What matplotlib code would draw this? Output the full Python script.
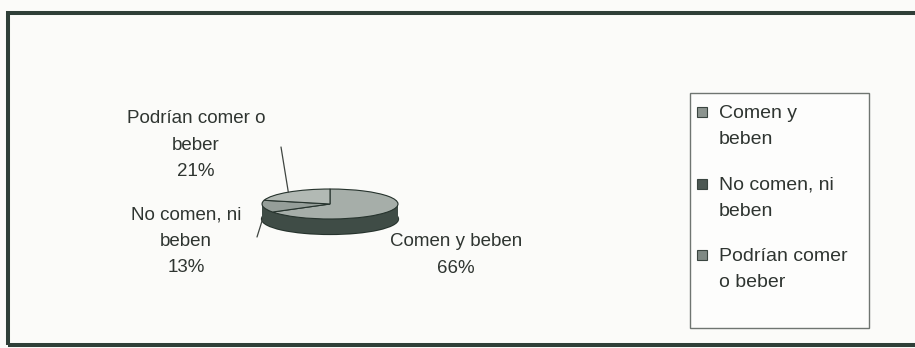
import numpy as np
import matplotlib
matplotlib.use('Agg')
import matplotlib.pyplot as plt
from matplotlib.patches import Rectangle

# data
categories = ['Comen y beben', 'No comen, ni beben', 'Podrían comer o beber']
shares = [66, 13, 21]
pie_labels = ['Comen y beben\n66%', 'No comen, ni\nbeben\n13%', 'Podrían comer o\nbeber\n21%']
legend_labels = ['Comen y\nbeben', 'No comen, ni\nbeben', 'Podrían comer\no beber']

top_colors = ['#a6aea9', '#959e99', '#b2b9b4']
legend_colors = ['#8c948f', '#4d5853', '#7f8984']
side_color = '#3f4c46'
edge_color = '#26332d'
text_color = '#2f3531'

plt.rcParams['font.family'] = ['Liberation Sans', 'DejaVu Sans']

W, H = 915, 348
fig = plt.figure(figsize=(W / 100, H / 100), dpi=100)
fig.patch.set_facecolor('#fbfbf9')


def fx(px):
    return px / W


def fy(py):
    return 1 - py / H


# outer frame (runs off the right edge)
fig.add_artist(Rectangle((fx(8), fy(345)), fx(940) - fx(8), fy(13) - fy(345),
                         transform=fig.transFigure, fill=False,
                         ec='#2f3f38', lw=2.9))

# 3D-looking pie: top face squashed to an ellipse, side made by stacking
cx, cy, rx, ry = 330, 204, 68, 15
xl, yl_lo, yl_hi = 1.2, -2.3, 1.3
ax = fig.add_axes([fx(cx - xl * rx), fy(cy - yl_lo * ry), 2 * xl * rx / W,
                   (yl_hi - yl_lo) * ry / H])

ax.pie([1], center=(0, -1), colors=['none'],
       wedgeprops=dict(ec=edge_color, lw=1.6, fill=False))
for c in np.linspace(-1, 0, 40)[:-1]:
    ax.pie(shares, startangle=90, counterclock=False, center=(0, c),
           colors=[side_color] * len(shares), wedgeprops=dict(linewidth=0))
ax.pie(shares, startangle=90, counterclock=False, colors=top_colors,
       wedgeprops=dict(ec=edge_color, lw=0.8))
ax.set_aspect('auto')
ax.set_xlim(-xl, xl)
ax.set_ylim(yl_lo, yl_hi)
ax.axis('off')

# mid angle of each slice (clockwise from 12 o'clock)
cum = np.cumsum([0] + shares)
mids = np.deg2rad(90 - 360 * (cum[:-1] + np.array(shares) / 2) / 100)

label_pos = [(456, 255), (186, 241), (196, 145)]
for lab, (px, py) in zip(pie_labels, label_pos):
    fig.text(fx(px), fy(py), lab, ha='center', va='center', fontsize=13.5,
             color=text_color, linespacing=1.72, multialignment='center')

# leader lines for the two small slices
ax.annotate('', xy=(np.cos(mids[2]), np.sin(mids[2])),
            xytext=(fx(281), fy(147)), textcoords='figure fraction',
            arrowprops=dict(arrowstyle='-', color='#3f4541', lw=0.9,
                            shrinkA=0, shrinkB=0))
ax.annotate('', xy=(np.cos(mids[1]), np.sin(mids[1]) - 0.8),
            xytext=(fx(257), fy(237)), textcoords='figure fraction',
            arrowprops=dict(arrowstyle='-', color='#3f4541', lw=0.9,
                            shrinkA=0, shrinkB=0))

# legend box
fig.add_artist(Rectangle((fx(690), fy(328)), fx(869) - fx(690), fy(93) - fy(328),
                         transform=fig.transFigure, fill=True, fc='#fdfdfc',
                         ec='#6f7571', lw=1.0))
entry_y = [112, 184, 255]
for lab, col, y in zip(legend_labels, legend_colors, entry_y):
    fig.add_artist(Rectangle((fx(697), fy(y + 5)), 10 / W, 10 / H,
                             transform=fig.transFigure, fc=col,
                             ec='#3a4540', lw=0.8))
    fig.text(fx(719), fy(y - 7), lab, ha='left', va='top', fontsize=14,
             color=text_color, linespacing=1.72)

fig.savefig('out.png', dpi=100, facecolor=fig.get_facecolor())
